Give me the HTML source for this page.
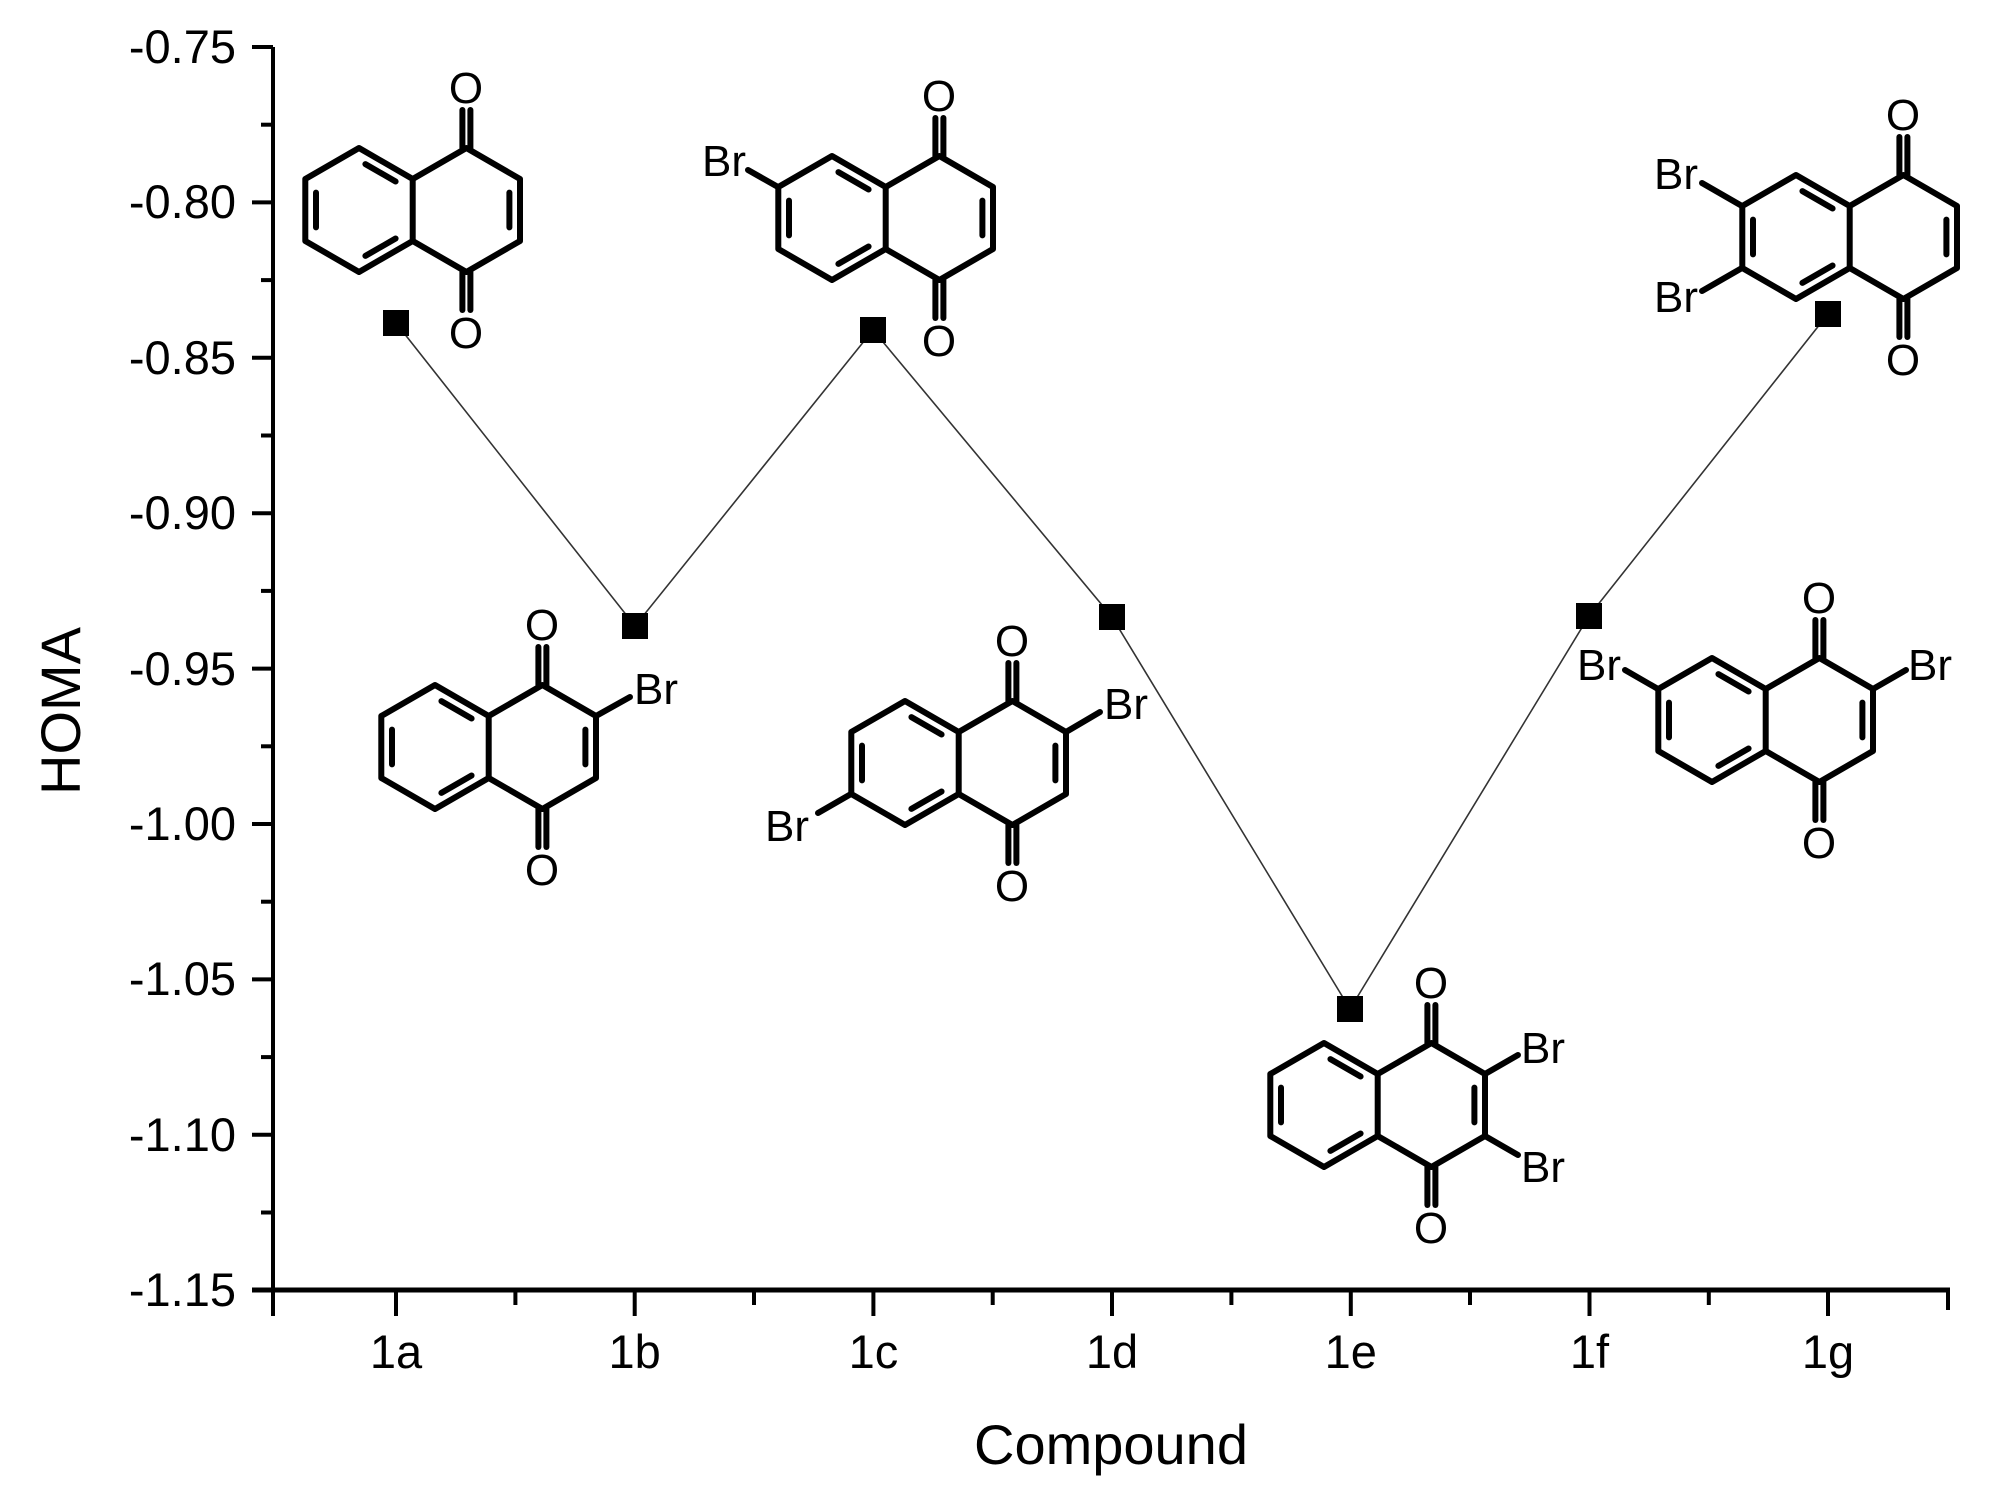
<!DOCTYPE html>
<html><head><meta charset="utf-8"><style>
html,body{margin:0;padding:0;background:#fff;}
svg{display:block;}
text{font-family:"Liberation Sans",sans-serif;fill:#000;}
</style></head><body>
<svg width="2008" height="1497" viewBox="0 0 2008 1497" xmlns="http://www.w3.org/2000/svg">
<defs>
<g id="nq" stroke="#000" stroke-width="6" fill="none" stroke-linecap="round" stroke-linejoin="round">
<polygon points="0,-62 -53.7,-31 -53.7,31 0,62 53.7,31 53.7,-31"/>
<polyline points="53.7,-31 107.4,-62 161,-31 161,31 107.4,62 53.7,31"/>
<line x1="6.4" y1="-45.9" x2="36.6" y2="-28.5"/>
<line x1="-43" y1="-17.4" x2="-43" y2="17.4"/>
<line x1="6.4" y1="45.9" x2="36.6" y2="28.5"/>
<line x1="150.4" y1="-17.4" x2="150.4" y2="17.4"/>
<line x1="103.4" y1="-62" x2="103.4" y2="-100"/>
<line x1="111.4" y1="-62" x2="111.4" y2="-100"/>
<line x1="103.4" y1="62" x2="103.4" y2="100"/>
<line x1="111.4" y1="62" x2="111.4" y2="100"/>
</g>
</defs>

<g stroke="#000" stroke-width="4" fill="none">
<line x1="273" y1="47" x2="273" y2="1316"/>
<line x1="252" y1="1290" x2="1950" y2="1290" stroke-width="5"/>
<line x1="1948" y1="1290" x2="1948" y2="1310"/>
<line x1="252" y1="47" x2="273" y2="47"/>
<line x1="252" y1="202.4" x2="273" y2="202.4"/>
<line x1="252" y1="357.8" x2="273" y2="357.8"/>
<line x1="252" y1="513.2" x2="273" y2="513.2"/>
<line x1="252" y1="668.6" x2="273" y2="668.6"/>
<line x1="252" y1="824" x2="273" y2="824"/>
<line x1="252" y1="979.4" x2="273" y2="979.4"/>
<line x1="252" y1="1134.8" x2="273" y2="1134.8"/>
<line x1="261" y1="124.7" x2="273" y2="124.7"/>
<line x1="261" y1="280.1" x2="273" y2="280.1"/>
<line x1="261" y1="435.5" x2="273" y2="435.5"/>
<line x1="261" y1="590.9" x2="273" y2="590.9"/>
<line x1="261" y1="746.3" x2="273" y2="746.3"/>
<line x1="261" y1="901.7" x2="273" y2="901.7"/>
<line x1="261" y1="1057.1" x2="273" y2="1057.1"/>
<line x1="261" y1="1212.5" x2="273" y2="1212.5"/>
<line x1="396" y1="1290" x2="396" y2="1316"/>
<line x1="634.7" y1="1290" x2="634.7" y2="1316"/>
<line x1="873.4" y1="1290" x2="873.4" y2="1316"/>
<line x1="1112" y1="1290" x2="1112" y2="1316"/>
<line x1="1350.8" y1="1290" x2="1350.8" y2="1316"/>
<line x1="1589.5" y1="1290" x2="1589.5" y2="1316"/>
<line x1="1828" y1="1290" x2="1828" y2="1316"/>
<line x1="515.4" y1="1290" x2="515.4" y2="1305"/>
<line x1="754" y1="1290" x2="754" y2="1305"/>
<line x1="992.7" y1="1290" x2="992.7" y2="1305"/>
<line x1="1231.4" y1="1290" x2="1231.4" y2="1305"/>
<line x1="1470" y1="1290" x2="1470" y2="1305"/>
<line x1="1708.8" y1="1290" x2="1708.8" y2="1305"/>
</g>
<g font-size="47" text-anchor="end">
<text x="236" y="63">-0.75</text>
<text x="236" y="218">-0.80</text>
<text x="236" y="374">-0.85</text>
<text x="236" y="529">-0.90</text>
<text x="236" y="685">-0.95</text>
<text x="236" y="840">-1.00</text>
<text x="236" y="995">-1.05</text>
<text x="236" y="1151">-1.10</text>
<text x="236" y="1306">-1.15</text>
</g>
<g font-size="47" text-anchor="middle">
<text x="396" y="1368">1a</text>
<text x="634.7" y="1368">1b</text>
<text x="873.4" y="1368">1c</text>
<text x="1112" y="1368">1d</text>
<text x="1350.8" y="1368">1e</text>
<text x="1589.5" y="1368">1f</text>
<text x="1828" y="1368">1g</text>
</g>
<text x="1111" y="1464" font-size="56" text-anchor="middle">Compound</text>
<text transform="translate(80,711) rotate(-90)" font-size="56" text-anchor="middle">HOMA</text>

<polyline points="396,323 635,626 873,330 1112,617 1350,1009 1589,616 1828,314" fill="none" stroke="#333" stroke-width="1.6"/>
<g fill="#000">
<rect x="383" y="310" width="26" height="26"/>
<rect x="622" y="613" width="26" height="26"/>
<rect x="860" y="317" width="26" height="26"/>
<rect x="1099" y="604" width="26" height="26"/>
<rect x="1337" y="996" width="26" height="26"/>
<rect x="1576" y="603" width="26" height="26"/>
<rect x="1815" y="301" width="26" height="26"/>
</g>

<g font-size="44" text-anchor="middle">
<use href="#nq" x="359" y="210"/>
<text x="466" y="103">O</text><text x="466" y="348">O</text>
<use href="#nq" x="435" y="747"/>
<text x="542" y="640">O</text><text x="542" y="885">O</text>
<use href="#nq" x="832" y="218"/>
<text x="939" y="111">O</text><text x="939" y="356">O</text>
<use href="#nq" x="905" y="763"/>
<text x="1012" y="656">O</text><text x="1012" y="901">O</text>
<use href="#nq" x="1324" y="1105"/>
<text x="1431" y="998">O</text><text x="1431" y="1243">O</text>
<use href="#nq" x="1712" y="720"/>
<text x="1819" y="613">O</text><text x="1819" y="858">O</text>
<use href="#nq" x="1796" y="237"/>
<text x="1903" y="130">O</text><text x="1903" y="375">O</text>
</g>

<g stroke="#000" stroke-width="6" stroke-linecap="round">
<line x1="596" y1="716" x2="630" y2="697"/>
<line x1="778" y1="187" x2="748" y2="170"/>
<line x1="1066" y1="732" x2="1100" y2="712"/>
<line x1="851" y1="794" x2="818" y2="813"/>
<line x1="1485" y1="1074" x2="1518" y2="1055"/>
<line x1="1485" y1="1136" x2="1518" y2="1155"/>
<line x1="1658" y1="689" x2="1625" y2="670"/>
<line x1="1873" y1="689" x2="1906" y2="670"/>
<line x1="1742" y1="206" x2="1702" y2="183"/>
<line x1="1742" y1="268" x2="1702" y2="291"/>
</g>
<g font-size="44">
<text x="634" y="704">Br</text>
<text x="746" y="176" text-anchor="end">Br</text>
<text x="1104" y="719">Br</text>
<text x="809" y="841" text-anchor="end">Br</text>
<text x="1521" y="1063">Br</text>
<text x="1521" y="1182">Br</text>
<text x="1621" y="680" text-anchor="end">Br</text>
<text x="1908" y="680">Br</text>
<text x="1698" y="189" text-anchor="end">Br</text>
<text x="1698" y="312" text-anchor="end">Br</text>
</g>
</svg>
</body></html>
